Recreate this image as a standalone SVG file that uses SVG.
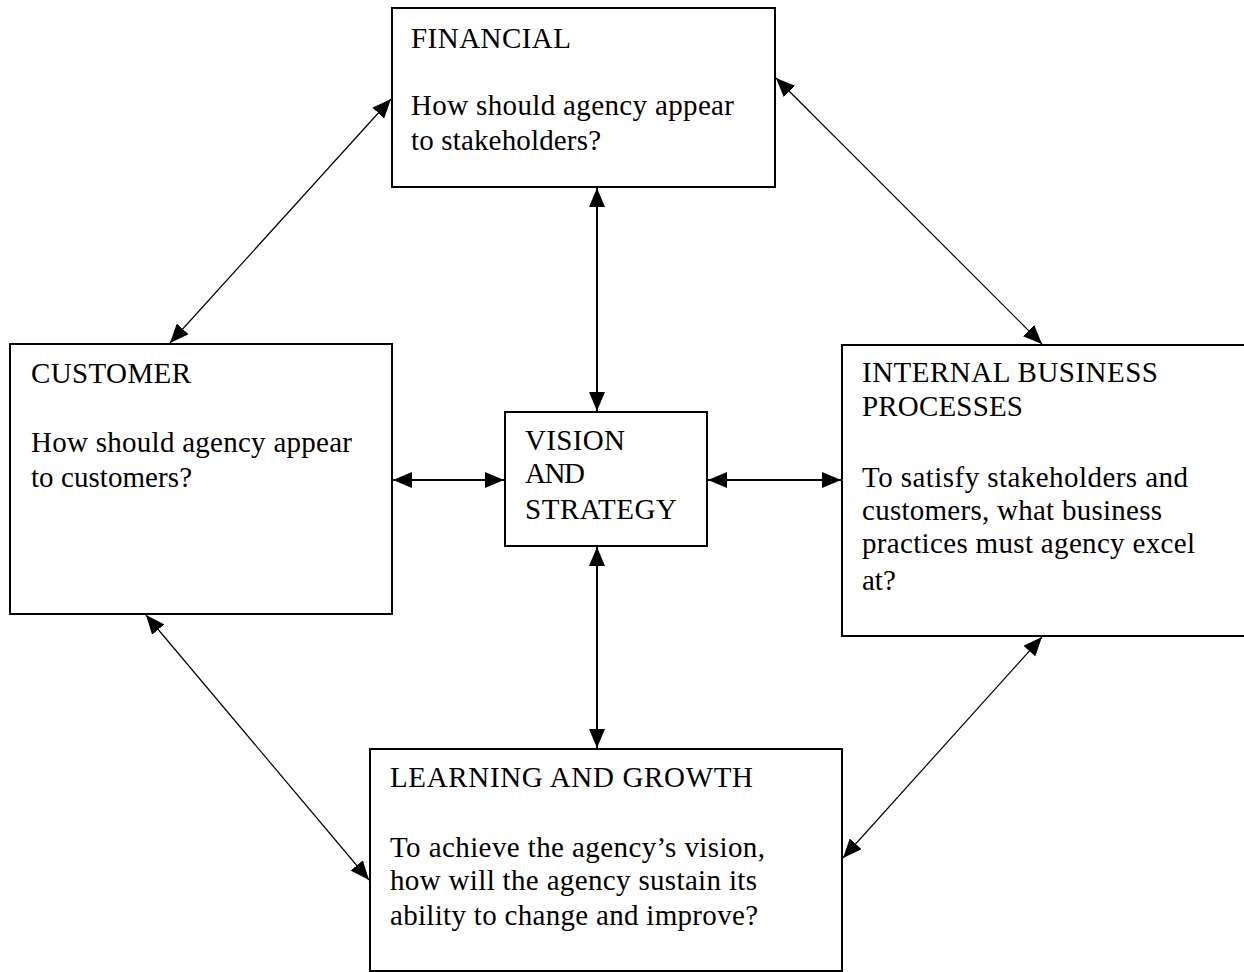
<svg xmlns="http://www.w3.org/2000/svg" width="1244" height="972" viewBox="0 0 1244 972">
  <style>
    .box { fill: #ffffff; stroke: #000000; stroke-width: 2; }
    .t { font-family: "Liberation Serif", "Times New Roman", serif; font-size: 29px; fill: #000000; }
    .c { stroke: #000000; fill: none; }
    .thick { stroke-width: 2; }
    .thin { stroke-width: 1.2; }
  </style>
  <defs>
    <marker id="ah" viewBox="0 0 19 16" refX="19" refY="8" markerWidth="19" markerHeight="16" markerUnits="userSpaceOnUse" orient="auto-start-reverse">
      <path d="M0,0 L19,8 L0,16 Z" fill="#000000"/>
    </marker>
  </defs>
  <rect x="0" y="0" width="1244" height="972" fill="#ffffff"/>

  <g id="financial">
    <rect class="box" x="392" y="8" width="383" height="179"/>
    <text class="t" x="411" y="48" textLength="160" lengthAdjust="spacing">FINANCIAL</text>
    <text class="t" x="411" y="115" textLength="323" lengthAdjust="spacing">How should agency appear</text>
    <text class="t" x="411" y="150" textLength="190" lengthAdjust="spacing">to stakeholders?</text>
  </g>

  <g id="customer">
    <rect class="box" x="10" y="344" width="382" height="270"/>
    <text class="t" x="31" y="383" textLength="160" lengthAdjust="spacing">CUSTOMER</text>
    <text class="t" x="31" y="452" textLength="321" lengthAdjust="spacing">How should agency appear</text>
    <text class="t" x="31" y="487" textLength="161" lengthAdjust="spacing">to customers?</text>
  </g>

  <g id="vision">
    <rect class="box" x="505" y="412" width="202" height="134"/>
    <text class="t" x="525" y="450" textLength="100" lengthAdjust="spacing">VISION</text>
    <text class="t" x="525" y="483" textLength="60" lengthAdjust="spacing">AND</text>
    <text class="t" x="525" y="519" textLength="152" lengthAdjust="spacing">STRATEGY</text>
  </g>

  <g id="internal">
    <rect class="box" x="842" y="345" width="410" height="291"/>
    <text class="t" x="862" y="382" textLength="296" lengthAdjust="spacing">INTERNAL BUSINESS</text>
    <text class="t" x="862" y="416" textLength="161" lengthAdjust="spacing">PROCESSES</text>
    <text class="t" x="862" y="487" textLength="326" lengthAdjust="spacing">To satisfy stakeholders and</text>
    <text class="t" x="862" y="520" textLength="300" lengthAdjust="spacing">customers, what business</text>
    <text class="t" x="862" y="553" textLength="333" lengthAdjust="spacing">practices must agency excel</text>
    <text class="t" x="862" y="590">at?</text>
  </g>

  <g id="learning">
    <rect class="box" x="370" y="749" width="472" height="222"/>
    <text class="t" x="390" y="787" textLength="363" lengthAdjust="spacing">LEARNING AND GROWTH</text>
    <text class="t" x="390" y="857" textLength="375" lengthAdjust="spacing">To achieve the agency’s vision,</text>
    <text class="t" x="390" y="890" textLength="367" lengthAdjust="spacing">how will the agency sustain its</text>
    <text class="t" x="390" y="925" textLength="368" lengthAdjust="spacing">ability to change and improve?</text>
  </g>

  <g id="connectors">
    <line class="c thick" x1="597" y1="188" x2="597" y2="411" marker-start="url(#ah)" marker-end="url(#ah)"/>
    <line class="c thick" x1="597" y1="547" x2="597" y2="748" marker-start="url(#ah)" marker-end="url(#ah)"/>
    <line class="c thick" x1="393" y1="480" x2="504" y2="480" marker-start="url(#ah)" marker-end="url(#ah)"/>
    <line class="c thick" x1="708" y1="480" x2="841" y2="480" marker-start="url(#ah)" marker-end="url(#ah)"/>
    <line class="c thin" x1="391" y1="99" x2="170" y2="343" marker-start="url(#ah)" marker-end="url(#ah)"/>
    <line class="c thin" x1="776" y1="78" x2="1042" y2="344" marker-start="url(#ah)" marker-end="url(#ah)"/>
    <line class="c thin" x1="146" y1="615" x2="369" y2="880" marker-start="url(#ah)" marker-end="url(#ah)"/>
    <line class="c thin" x1="1042" y1="637" x2="843" y2="858" marker-start="url(#ah)" marker-end="url(#ah)"/>
  </g>
</svg>
